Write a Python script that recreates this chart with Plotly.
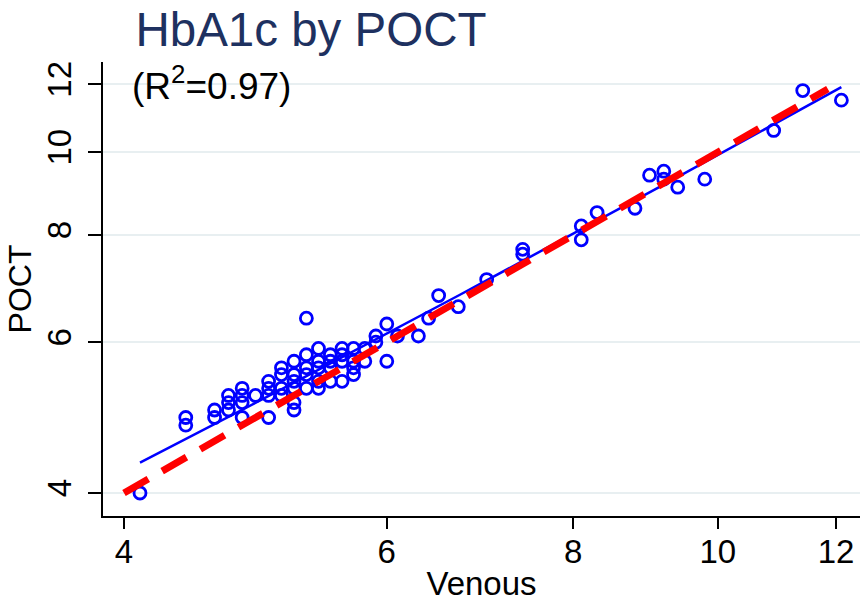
import numpy as np
import plotly.graph_objects as go

# Venous vs POCT HbA1c (%)
venous = [4.1, 4.4, 4.4, 4.6, 4.6, 4.7, 4.7, 4.7, 4.8, 4.8, 4.8, 4.8, 4.9,
          5.0, 5.0, 5.0, 5.0, 5.1, 5.1, 5.1, 5.1, 5.2, 5.2, 5.2, 5.2, 5.2, 5.2,
          5.3, 5.3, 5.3, 5.3, 5.3, 5.4, 5.4, 5.4, 5.4, 5.4, 5.5, 5.5, 5.5, 5.5,
          5.6, 5.6, 5.6, 5.6, 5.7, 5.7, 5.7, 5.7, 5.8, 5.8, 5.9, 5.9,
          6.0, 6.0, 6.1, 6.3, 6.4, 6.5, 6.7, 7.0, 7.4, 7.4, 8.1, 8.1, 8.3,
          8.8, 9.0, 9.2, 9.2, 9.4, 9.8, 10.9, 11.4, 12.1]
poct = [4.0, 4.9, 4.8, 5.0, 4.9, 5.2, 5.1, 5.0, 5.3, 5.2, 5.1, 4.9, 5.2,
        5.4, 5.3, 5.2, 4.9, 5.6, 5.5, 5.3, 5.2, 5.7, 5.5, 5.4, 5.3, 5.1, 5.0,
        6.4, 5.8, 5.6, 5.5, 5.3, 5.9, 5.7, 5.6, 5.4, 5.3, 5.8, 5.7, 5.6, 5.4,
        5.9, 5.8, 5.7, 5.4, 5.9, 5.7, 5.6, 5.5, 5.9, 5.7, 6.1, 6.0,
        6.3, 5.7, 6.1, 6.1, 6.4, 6.8, 6.6, 7.1, 7.7, 7.6, 8.2, 7.9, 8.5,
        8.6, 9.4, 9.5, 9.3, 9.1, 9.3, 10.6, 11.8, 11.5]

# Linear fit (POCT = a + b * Venous)
fit_intercept = 0.461
fit_slope = 0.946
# Line of identity
identity_range = [4.0, 11.85]

tick_vals = [4, 6, 8, 10, 12]
tick_text = ["4", "6", "8", "10", "12"]

fit_x = np.linspace(min(venous), max(venous), 50)
fit_y = fit_intercept + fit_slope * fit_x

FONT = "Arial, Liberation Sans, sans-serif"

fig = go.Figure()
fig.add_trace(go.Scatter(
    x=venous, y=poct, mode="markers",
    marker=dict(symbol="circle-open", size=12, color="#0000ff",
                line=dict(width=2.8, color="#0000ff")),
    showlegend=False))
fig.add_trace(go.Scatter(
    x=fit_x, y=fit_y, mode="lines",
    line=dict(color="#0000ff", width=2.5), showlegend=False))
fig.add_trace(go.Scatter(
    x=identity_range, y=identity_range, mode="lines",
    line=dict(color="#ff0000", width=7, dash="28px,16px"), showlegend=False))

fig.update_layout(
    width=860, height=605,
    margin=dict(l=103, r=0, t=62, b=89, autoexpand=False),
    paper_bgcolor="white", plot_bgcolor="white",
    font=dict(family=FONT, color="black"),
    title=dict(text="HbA1c by POCT", x=0.3616, xref="container", xanchor="center",
               y=0.952, yref="container", yanchor="middle",
               font=dict(size=47.5, color="#1e3160", family=FONT)),
    annotations=[dict(text="(R<sup>2</sup>=0.97)", xref="paper", yref="paper",
                      x=0.0357, y=0.952, xanchor="left", yanchor="middle",
                      showarrow=False, font=dict(size=37, color="black", family=FONT))],
)
fig.update_xaxes(
    type="log", range=[0.58799, 1.09527], automargin=False,
    tickvals=tick_vals, ticktext=tick_text,
    showgrid=False, zeroline=False,
    showline=True, linecolor="black", linewidth=1.8,
    ticks="outside", ticklen=11, tickwidth=1.8, tickcolor="black",
    tickfont=dict(size=33, family=FONT), ticklabelstandoff=-6,
    title=dict(text="Venous", font=dict(size=33, family=FONT), standoff=3),
)
fig.update_yaxes(
    type="log", range=[0.57521, 1.10522], automargin=False,
    tickvals=tick_vals, ticktext=tick_text, tickangle=-90,
    showgrid=True, gridcolor="#e8eff1", gridwidth=2, zeroline=False,
    showline=True, linecolor="black", linewidth=1.8,
    ticks="outside", ticklen=13, tickwidth=1.8, tickcolor="black",
    tickfont=dict(size=33, family=FONT), ticklabelstandoff=4,
    title=dict(text="POCT", font=dict(size=32, family=FONT), standoff=0),
)

fig.write_html("out.html", config={"displayModeBar": False},
               post_script="document.body.style.margin='0px';")
